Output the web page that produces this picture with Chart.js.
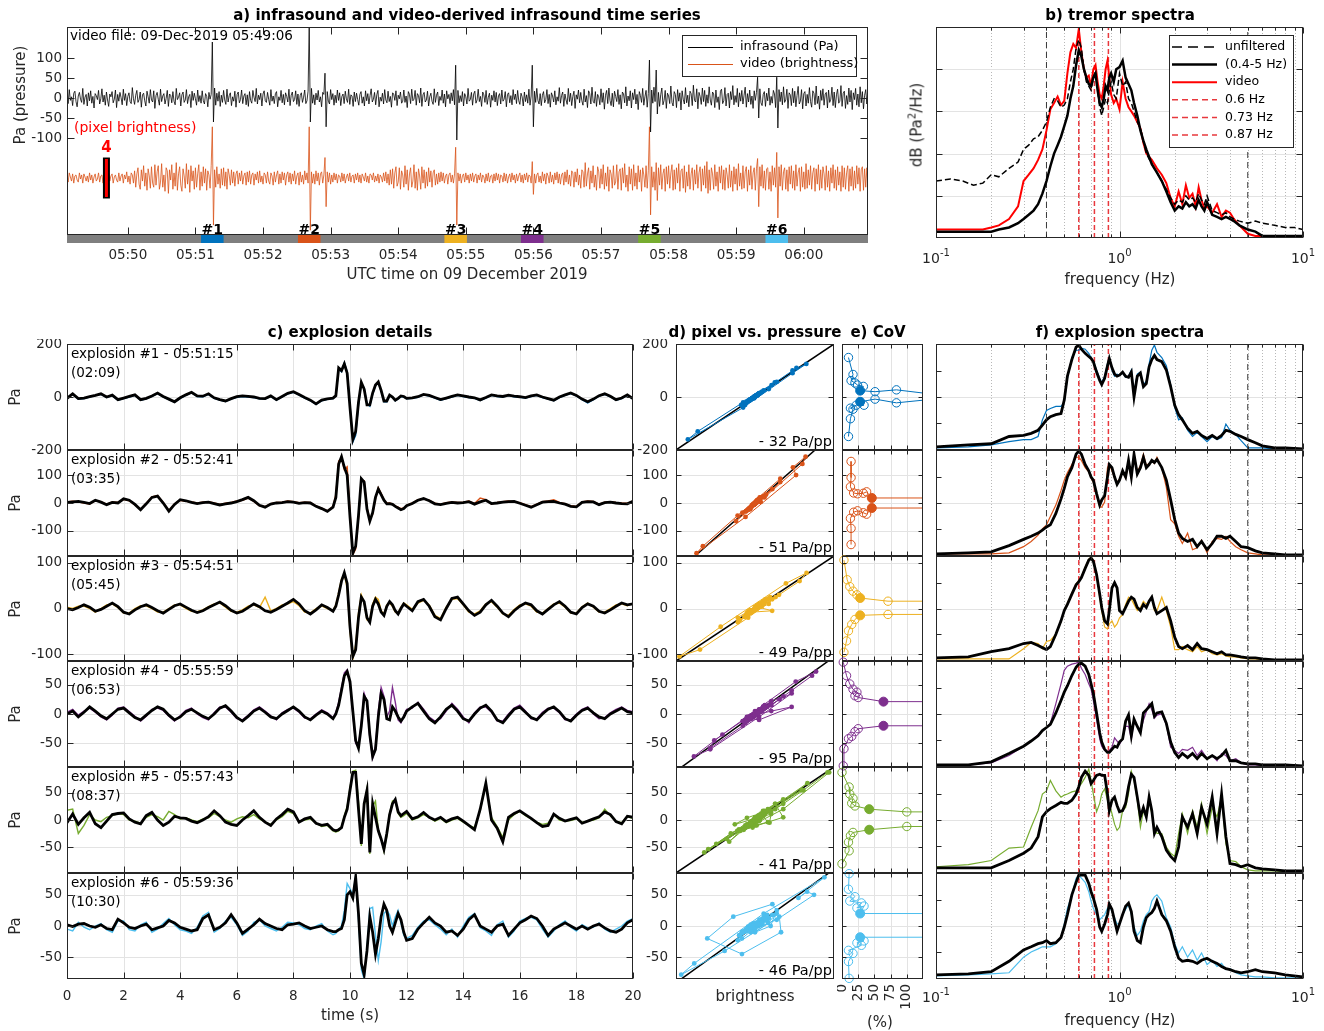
<!DOCTYPE html>
<html><head><meta charset="utf-8">
<script src="https://cdn.jsdelivr.net/npm/chart.js@4.4.1/dist/chart.umd.min.js"></script>
<style>
html,body{margin:0;padding:0;background:#fff;}
#root{position:relative;width:1324px;height:1031px;overflow:hidden;font-family:"DejaVu Sans",sans-serif;}
.lbl{position:absolute;white-space:nowrap;transform:translate(-50%,-50%);font-size:15px;color:#262626;line-height:1;}
.ttl{font-weight:bold;color:#000;}
.rot{transform:translate(-50%,-50%) rotate(-90deg);}
sup{font-size:10px;vertical-align:6px;line-height:0;}
canvas{position:absolute;}
</style></head><body><div id="root"></div>
<script>
const FONT = '"DejaVu Sans", sans-serif';
Chart.defaults.font.family = FONT;
Chart.defaults.font.size = 13.5;
Chart.defaults.color = '#262626';

// ================= DATA =================
// panel a : 1-s samples starting 05:49:06
const aStep = 1;
const aInfra = [
8,-14,21,-6,3,-19,12,17,-9,-22,5,14,-3,-11,24,-16,2,9,-20,13,
-7,18,-13,4,-25,11,6,-4,19,-15,-2,23,-10,7,-18,15,-5,-21,10,3,
16,-12,-3,20,-24,9,-8,14,1,-17,22,-6,11,-19,4,13,-9,-14,26,-2,
-16,7,19,-11,-4,15,-23,8,12,-7,-20,17,3,-13,21,-5,-10,18,-26,6,
14,-3,-18,22,-9,5,11,-15,-1,19,-21,10,7,-12,16,-8,-17,24,-4,2,
13,-20,8,15,-11,-5,21,-14,3,9,-24,17,-6,12,-2,-18,20,-9,6,-13,
18,-7,-15,11,4,-22,14,-3,9,140,-60,25,-18,12,-8,16,-21,7,-11,19,
-5,-16,22,-10,6,13,-19,3,-8,17,-23,9,15,-12,-4,20,-14,5,11,-17,
8,-21,16,-6,-13,19,2,-9,24,-15,7,-4,12,-20,10,18,-7,-11,14,-3,
-18,21,-8,5,-14,11,16,-22,3,-6,19,-12,9,-17,13,4,-10,22,-19,7,
15,-9,-4,18,-16,10,-21,6,13,-11,2,20,-14,-7,17,185,-60,24,-13,8,
-17,12,-5,19,-10,3,-22,14,9,62,-72,16,-8,-15,21,-4,11,-18,7,-12,
20,-6,13,-19,4,10,-14,17,-2,-11,22,-16,8,5,-21,15,-9,12,-4,-18,
9,16,-13,3,-20,18,-7,11,-15,6,23,-10,-3,14,-17,8,19,-22,2,-8,
12,-15,21,-5,-12,17,-9,4,-23,13,10,-6,18,-19,7,-2,15,-13,-8,20,
-11,5,-24,16,9,-14,22,-7,-3,19,-18,11,6,-12,25,-21,8,14,-10,-5,
17,-20,3,12,-8,-16,23,-11,7,15,-19,4,-6,20,-13,10,-22,18,-2,9,
-14,13,-7,21,-17,82,-105,19,-12,6,-9,16,-20,11,3,-15,24,-8,-4,14,
-18,10,17,-13,-5,22,-9,4,-21,15,8,-11,19,-16,2,12,-23,7,-6,18,
-10,14,-19,5,11,-15,20,-8,-3,16,-22,9,13,-12,6,-17,21,-4,10,-14,
19,-7,-16,12,3,-20,15,-9,8,-13,22,-18,5,82,-72,17,-11,24,-6,-15,
11,-19,7,16,-12,-4,21,-14,9,-23,13,5,-10,18,-17,3,-8,26,-13,6,
15,-21,10,-5,-16,24,-9,12,-19,4,17,-26,8,-3,20,-12,14,-7,-18,22,
-10,6,-24,18,11,-15,27,-8,-13,16,-21,9,3,-17,23,-11,13,-28,7,19,
-14,25,-6,-19,12,-22,17,4,-9,21,-16,8,-27,15,10,-12,28,-20,5,-7,
18,-25,13,-4,22,-15,9,-29,16,6,-11,24,-18,3,19,-23,11,95,-85,20,
-13,27,-9,70,-40,14,-21,8,25,-17,-6,19,-26,12,5,-14,30,-11,-20,16,
9,-24,21,-8,13,-30,18,-3,-15,26,-12,7,-22,17,11,-19,32,-6,-10,23,
-27,14,4,-16,25,-9,19,-21,8,-13,28,-5,-18,15,10,-24,20,-11,3,-29,
17,22,-14,-7,26,-20,9,12,-25,16,-4,31,-17,6,-11,24,-22,13,-8,19,
-15,7,27,-23,11,-10,20,-16,5,-26,18,-6,14,52,-50,23,-12,-19,9,16,
-21,12,-7,25,-18,4,-13,19,10,-24,52,-75,21,-9,15,-17,28,-11,-5,22,
-26,13,8,-19,24,-12,17,-22,6,29,-15,-8,21,-27,11,16,-20,9,-13,26,
-9,-23,18,12,-17,30,-14,5,-28,19,-6,23,-18,10,14,-25,20,-11,-3,27,
-19,15,-24,8,22,-13,-8,31,-21,12,17,-26,6,-16,25,-10,19,-29,13,-4,
24,-18,10,-22,28,-12,16,-27,7,21,-15,19];
const aVideoPP = [
0.2,-0.4,0.5,0.1,-0.3,0.4,-0.5,0.2,0.3,-0.2,-0.4,0.5,-0.1,0.3,-0.5,0.4,0.1,-0.3,0.2,-0.4,
0.5,-0.2,0.3,-0.5,0.1,0.4,-0.3,-0.1,0.5,-0.4,0.2,0.3,-0.5,0.4,-0.2,0.1,-0.4,0.5,-0.3,0.2,
0.4,-0.5,0.1,0.3,-0.2,-0.4,0.5,-0.3,0.2,0.4,-0.5,0.3,-0.1,0.6,-0.4,0.2,-0.6,0.5,0.3,-0.5,
0.7,-0.9,0.4,1.0,-0.6,-1.1,0.8,-0.3,1.2,-0.8,0.5,-1.2,0.9,0.2,-1.0,1.1,-0.5,-0.9,1.3,-0.7,
0.6,1.2,-1.1,-0.4,1.4,-0.9,0.3,-1.3,1.0,0.7,-1.5,0.8,-0.2,1.3,-1.1,0.5,-0.8,1.5,-1.2,0.4,
1.1,-0.7,-1.3,0.9,0.2,-1.0,1.4,-0.6,0.8,-1.4,1.2,-0.3,0.7,-1.1,1.0,-0.9,0.4,1.3,-1.2,0.6,
-0.8,1.1,-0.5,0.9,-1.2,0.7,0.3,-1.0,1.2,5.0,-4.6,0.8,-0.9,1.1,-0.6,0.4,-1.0,0.9,-0.7,1.0,
-0.8,0.6,-1.1,0.9,0.3,-0.7,0.8,-0.5,0.6,-0.8,0.4,0.7,-0.6,0.5,-0.3,0.7,-0.6,0.2,0.5,-0.7,
0.6,-0.4,0.7,-0.6,0.3,0.5,-0.7,0.4,-0.2,0.6,-0.5,0.7,-0.4,0.2,-0.6,0.5,0.3,-0.5,0.6,-0.3,
-0.6,0.5,0.2,-0.7,0.6,-0.4,0.3,0.7,-0.6,0.4,-0.5,0.6,-0.2,0.5,-0.7,0.3,0.6,-0.4,0.5,-0.6,
0.4,-0.3,0.7,-0.6,0.2,0.5,-0.7,0.6,-0.4,0.3,-0.6,0.7,-0.2,0.5,-0.5,5.0,-5.1,0.6,-0.5,0.4,
-0.6,0.7,-0.3,0.5,-0.7,0.4,0.6,-0.5,0.3,2.0,-2.8,0.6,-0.4,0.5,-0.6,0.3,-0.4,0.5,-0.2,0.4,
-0.5,0.3,0.2,-0.4,0.5,-0.3,0.4,-0.5,0.1,0.4,-0.3,0.5,-0.4,0.2,0.3,-0.5,0.4,-0.2,0.5,-0.4,
0.3,-0.5,0.4,0.1,-0.3,0.5,-0.4,0.2,-0.5,0.4,0.3,-0.2,0.5,-0.4,0.2,-0.3,0.4,-0.5,0.3,0.1,
-0.4,0.5,-0.3,0.6,-0.5,0.4,-0.7,0.8,-0.6,0.9,-1.0,0.5,1.1,-0.8,-0.4,1.0,-1.1,0.7,0.3,-0.9,
1.2,-0.6,0.8,-1.2,0.4,1.0,-0.9,-0.3,1.3,-1.0,0.6,-1.2,0.9,0.2,-1.1,1.1,-0.5,0.8,-1.0,0.6,
-0.8,1.0,-0.4,0.7,-0.9,0.5,0.8,-0.7,0.4,-0.6,0.5,-0.4,0.6,-0.3,0.5,-0.5,0.2,0.4,-0.6,0.3,
0.5,-0.4,0.3,-0.5,0.4,3.0,-4.6,0.5,-0.3,0.4,-0.5,0.2,0.4,-0.4,0.5,-0.2,0.3,-0.5,0.4,-0.3,
0.5,-0.4,0.2,0.4,-0.5,0.3,-0.2,0.5,-0.4,0.3,0.1,-0.5,0.4,-0.3,0.5,-0.4,0.2,0.3,-0.5,0.4,
-0.3,0.5,-0.2,0.4,-0.5,0.3,0.2,-0.4,0.5,-0.3,0.4,-0.5,0.1,0.4,-0.4,0.5,-0.2,0.3,-0.5,0.4,
-0.3,0.2,0.5,-0.4,0.3,-0.5,0.4,-0.2,0.5,-0.4,0.3,0.2,-0.5,1.6,-1.6,0.4,-0.5,0.3,0.5,-0.4,
0.2,-0.5,0.6,-0.3,0.4,-0.6,0.5,0.2,-0.5,0.6,-0.4,0.3,-0.6,0.5,-0.2,0.6,-0.5,0.4,-0.6,0.3,
0.5,-0.7,0.6,-0.4,0.8,-0.6,0.3,-0.8,0.7,0.5,-0.9,0.6,-0.4,0.9,-0.7,0.3,-1.0,0.8,0.6,-0.9,
1.5,-0.8,0.4,1.0,-1.1,0.7,-0.5,1.2,-0.9,0.3,-1.2,1.1,0.6,-1.0,0.9,-0.6,1.3,-1.1,0.5,-0.8,
1.1,-1.3,0.8,0.4,-1.0,1.2,-0.7,-0.4,1.3,-1.1,0.6,0.9,-1.2,1.0,-0.5,1.4,-0.9,0.3,-1.3,1.1,
-0.6,0.9,-1.2,1.3,-0.8,0.5,-1.1,1.2,-0.4,0.8,-1.3,1.0,0.3,-0.9,1.2,-1.0,0.7,5.0,-3.6,1.1,
-0.9,0.6,-1.2,1.5,-2.2,1.0,-0.7,1.3,-1.1,0.4,0.9,-1.3,1.1,-0.6,1.2,-1.0,0.5,1.3,-1.2,0.8,
-1.1,1.0,-0.5,1.4,-1.3,0.7,0.9,-1.0,1.2,-1.4,0.6,-0.8,1.3,-1.1,0.4,1.0,-1.2,0.8,-0.6,1.3,
-1.0,0.5,1.1,-1.3,0.9,-0.7,1.2,-1.0,1.6,-1.5,0.8,-1.2,1.0,0.4,-1.1,1.3,-0.8,0.6,-1.3,1.1,
-0.5,1.2,-1.1,0.8,-1.2,1.0,0.3,-1.0,1.3,-0.9,0.7,-1.3,1.1,-0.6,0.9,-1.2,1.4,-0.8,0.5,-1.1,
1.2,-1.0,0.6,1.1,-1.3,0.8,-0.7,1.2,-1.1,0.5,1.0,-1.2,0.9,1.9,-2.8,1.1,-0.8,1.3,-1.0,0.7,
-1.2,0.9,1.0,-1.1,0.6,-1.3,1.2,-0.7,1.0,-0.9,2.5,-3.9,1.1,-0.8,1.3,-1.2,0.6,1.0,-1.1,0.8,
-1.3,1.1,-0.6,1.2,-1.0,0.7,-1.2,1.3,-0.8,0.5,1.0,-1.3,1.1,-0.9,0.6,-1.1,1.4,-1.0,0.8,-0.7,
1.2,-1.1,0.5,1.0,-1.3,0.9,-0.6,1.3,-1.2,0.8,-1.0,1.1,0.4,-1.2,1.2,-0.9,0.7,-1.3,1.0,-0.5,
1.3,-1.0,0.8,-1.2,1.1,-0.7,0.6,-1.3,1.2,-0.9,1.0,-1.1,0.5,1.2,-1.3,0.9,-0.8,1.1,-1.2,0.7,
-1.0,1.2,-0.6,1.0,-1.3,0.8,1.1,-1.2,0.9,-0.9,1.0,-0.8];
const videoPaPerPP = 25.6, videoBaseline = -200, scaleBarPP = 4, scaleBarTime = 35;
const aTickSecs = [54,114,174,234,294,354,414,474,534,594,654];
const aTickLabels = ['05:50','05:51','05:52','05:53','05:54','05:55','05:56','05:57','05:58','05:59','06:00'];
const aYTicks = [-100,-50,0,50,100];
const aLegend = ['infrasound (Pa)','video (brightness)'];
const explTimes = [129,215,345,413,517,630];
const explNames = ['#1','#2','#3','#4','#5','#6'];
const explColors = ['#0072BD','#D95319','#EDB120','#7E2F8E','#77AC30','#4DBEEE'];

// panel b : tremor spectra (relative dB, 0-100 of axis)
const bFreq = [0.1,0.12,0.14,0.16,0.18,0.2,0.22,0.25,0.28,0.3,0.32,0.34,0.36,0.38,0.4,0.42,0.44,0.46,0.48,0.5,0.52,0.54,0.56,0.58,0.6,0.62,0.64,0.66,0.68,0.7,0.72,0.74,0.76,0.78,0.8,0.82,0.84,0.86,0.88,0.9,0.93,0.96,1.0,1.04,1.08,1.12,1.16,1.2,1.25,1.3,1.35,1.4,1.5,1.6,1.7,1.8,1.9,2.0,2.1,2.2,2.3,2.4,2.5,2.6,2.7,2.8,2.9,3.0,3.2,3.4,3.6,3.8,4.0,4.2,4.5,5.0,5.5,6,7,8,9,10];
const bUnfilt = [27,28,27,25,26,30,29,33,36,42,44,47,48,51,55,62,66,65,62,63,66,74,80,90,94,90,80,74,72,70,76,79,70,62,58,62,66,64,70,74,68,66,78,72,74,66,64,60,55,52,46,40,35,31,27,23,19,16,18,17,20,18,19,17,21,18,16,20,13,12,11,12,10,9,8,7,8,7,6,5,5,4];
const bFilt = [3,3,3,3,3,3,4,5,7,9,11,13,16,21,27,34,40,44,48,53,58,66,72,82,89,86,80,76,73,72,76,78,70,64,62,66,72,70,76,78,74,80,81,84,76,73,70,64,58,51,46,42,35,31,27,22,17,13,15,14,17,15,16,14,18,15,13,17,11,10,9,10,9,8,6,4,3,1,1,1,1,1];
const bVideo = [4,4,4,4,4,5,6,9,15,27,30,33,37,42,51,61,64,67,63,65,78,88,92,90,99,88,80,76,77,72,80,82,74,68,66,72,80,84,76,68,64,66,61,74,66,62,60,58,55,52,45,40,37,33,30,26,19,15,22,16,25,19,21,15,24,18,14,15,12,16,10,13,12,9,6,2,1,1,0,0,0,0];
const bandFreqs = [0.4, 5];
const peakFreqs = [0.6, 0.73, 0.87];
const logMajor = [0.1, 1, 10];
const logMinor = [0.2,0.3,0.4,0.5,0.6,0.7,0.8,0.9,2,3,4,5,6,7,8,9];

// panel c : 20-s windows around each explosion
const tC = [0,0.2,0.4,0.6,0.8,1,1.2,1.4,1.6,1.8,2,2.2,2.4,2.6,2.8,3,3.2,3.4,3.6,3.8,4,4.2,4.4,4.6,4.8,5,5.2,5.4,5.6,5.8,6,6.2,6.4,6.6,6.8,7,7.2,7.4,7.6,7.8,8,8.2,8.4,8.6,8.8,9,9.2,9.4,
 9.5,9.6,9.7,9.8,9.9,10,10.1,10.2,10.3,10.4,10.5,10.6,10.7,10.8,10.9,11,11.1,11.2,11.3,11.4,11.5,11.6,11.7,11.8,11.9,12,
 12.2,12.4,12.6,12.8,13,13.2,13.4,13.6,13.8,14,14.2,14.4,14.6,14.8,15,15.2,15.4,15.6,15.8,16,16.2,16.4,16.6,16.8,17,17.2,17.4,17.6,17.8,18,18.2,18.4,18.6,18.8,19,19.2,19.4,19.6,19.8,20];
const cInfra1 = [-5,12,-6,-4,1,6,12,0,7,-10,-4,2,8,-10,-5,4,15,2,-8,-18,-3,8,18,4,3,12,-3,-10,-15,-6,1,4,2,0,-5,-6,4,-10,2,14,20,9,-2,-12,-26,-12,-7,-4,
 5,110,100,125,90,-40,-160,-130,-20,55,30,-30,-30,15,45,57,25,-15,-15,7,0,-12,-5,4,2,-5,
 -3,1,10,6,-2,-10,-4,2,8,4,0,-3,-11,-2,8,4,2,7,3,1,-2,4,8,0,-6,-12,0,8,15,6,-8,-18,-8,5,12,3,-10,-4,8,-6];
const cVideo1 = [-2,10,-8,-6,0,5,10,-2,5,-12,-6,0,6,-12,-7,2,13,0,-10,-20,-5,6,16,2,1,10,-5,-12,-17,-8,-1,2,0,-2,-7,-8,2,-12,0,12,18,7,-4,-14,-28,-14,-9,-6,
 3,105,95,130,95,-30,-170,-145,-30,50,35,-25,-35,10,42,55,22,-18,-18,5,-2,-14,-7,2,0,-7,
 -5,-1,8,4,-4,-12,-6,0,6,2,-2,-5,-13,-4,6,2,0,5,1,-1,-4,2,6,-2,-8,-14,-2,6,13,4,-10,-22,-10,3,10,1,-12,-6,6,-8];
const cInfra2 = [2,4,6,2,-2,10,3,-6,2,0,15,10,-5,-24,-3,20,25,0,-29,-5,12,8,2,-2,1,3,-2,-7,-3,0,5,12,20,8,-8,-15,-4,0,1,5,3,-1,1,0,-12,-20,-30,-15,
 20,140,166,128,100,-50,-180,-155,-45,87,75,-22,-65,-35,20,50,30,10,-3,-2,-5,-12,-18,-24,-20,-10,
 -2,10,16,8,-3,-6,-1,2,0,1,5,-4,4,10,-2,0,3,5,6,-1,-8,-15,-6,3,5,6,0,-4,-12,-14,2,5,4,-6,1,3,0,-2,-3,6];
const cVideo2 = [4,6,4,0,-4,8,5,-4,4,2,13,8,-7,-22,-1,22,27,2,-27,-3,10,6,4,0,3,5,0,-5,-1,2,7,10,18,6,-10,-13,-2,2,3,7,5,1,3,2,-10,-18,-28,-13,
 30,150,160,120,130,-30,-185,-165,-55,80,80,-15,-60,-40,15,55,35,12,-1,0,-3,-10,-15,-20,-18,-8,
 0,12,14,10,-1,-4,1,4,2,3,7,-2,18,12,-4,2,5,7,4,1,-6,-13,-4,5,7,12,2,-2,-10,-12,4,7,6,-4,3,5,2,0,-1,8];
const cInfra3 = [0,-3,2,8,3,-6,-2,5,12,4,-8,-12,-3,4,8,2,-5,-10,-2,6,10,3,-4,-9,-5,2,8,14,6,-4,-10,-6,2,10,4,-5,-8,-2,5,12,20,10,-5,-12,-3,8,2,-6,
 5,30,60,78,55,-40,-105,-90,-20,25,15,-20,-30,5,20,10,-8,-15,5,15,8,-5,-12,0,10,5,
 -5,15,20,5,-18,-25,0,22,25,10,-5,-15,-8,8,18,5,-10,-18,-5,5,12,8,-5,-12,-2,8,15,5,-8,-12,2,10,5,-6,-10,-3,5,12,8,10];
const cVideo3 = [3,0,5,5,0,-8,0,8,10,2,-10,-10,0,6,6,0,-8,-8,0,8,8,0,-6,-7,-3,4,10,12,3,-6,-8,-3,5,8,2,25,-5,0,8,10,15,6,-8,-10,0,6,0,-4,
 8,35,65,75,45,-50,-110,-80,-10,30,12,-25,-25,10,25,20,-5,-12,8,12,5,-8,-10,3,12,8,
 -2,12,18,8,-15,-22,3,20,22,8,-8,-12,-5,10,15,3,-12,-15,-2,8,10,5,-8,-10,0,10,12,3,-10,-10,4,12,3,-8,-8,0,8,10,6,12];
const cInfra4 = [0,5,-5,3,12,5,-3,-8,0,8,10,2,-6,-10,-2,6,12,8,-2,-10,-5,4,8,2,-4,-8,0,10,14,5,-6,-12,-4,5,10,3,-5,-8,0,6,12,5,-5,-10,-2,5,0,-8,
 0,15,40,65,72,55,5,-45,-58,-20,30,22,-35,-72,-60,-5,35,25,-8,-10,12,5,-5,-12,-5,5,
 12,18,5,-8,-15,-5,8,15,5,-8,-12,0,10,15,5,-10,-15,-3,8,12,3,-6,-10,0,8,12,4,-8,-12,-2,6,10,2,-5,-8,0,5,10,4,2];
const cVideo4 = [3,8,-2,5,10,3,-5,-10,-2,10,12,4,-4,-12,-4,8,10,6,-4,-12,-3,6,10,0,-6,-10,2,12,12,3,-8,-10,-2,7,12,5,-3,-10,2,8,10,3,-7,-8,0,7,2,-6,
 3,20,45,70,75,50,0,-50,-55,-15,35,20,-40,-75,-55,5,45,30,-5,5,45,20,-10,-15,-3,8,
 10,20,8,-5,-12,-8,5,18,8,-5,-15,2,12,12,3,-12,-12,0,10,15,5,-8,-8,3,10,10,2,-10,-10,0,8,12,0,-8,-6,2,8,12,6,4];
const cInfra5 = [-5,11,-8,4,14,-7,-14,-2,10,12,13,2,-4,-7,8,14,0,-10,-4,7,4,3,-2,-5,0,6,17,8,-4,-8,-10,0,8,17,5,-4,-10,2,10,20,15,-4,2,5,-6,-10,-8,-18,
 -20,-18,-14,5,20,55,88,88,20,-44,30,55,-60,30,5,-20,-35,-54,-25,10,30,38,15,8,12,16,
 2,6,14,5,0,5,-3,2,5,-2,-10,-18,20,68,0,-15,-40,5,12,17,10,3,-5,-12,-10,11,3,-2,1,4,-6,-2,2,6,15,10,-3,-7,7,5];
const cVideo5 = [18,20,-25,-10,10,0,-3,5,8,12,10,0,-2,-6,5,10,6,0,16,10,2,4,0,-3,2,4,12,6,0,-4,2,6,4,10,2,-4,-8,0,6,16,12,-2,0,2,-6,-12,-10,-20,
 -22,-20,-12,8,25,60,90,92,35,-48,25,58,-63,25,35,-18,-35,-58,-30,12,35,35,12,5,8,12,
 0,4,10,5,-2,3,-5,0,3,-4,-10,-14,18,65,5,-12,-32,0,10,16,8,2,-4,-8,-6,10,0,-2,-1,2,-4,-2,0,4,20,8,-2,-5,6,3];
const cInfra6 = [2,-1,3,4,0,-2,2,-4,-6,11,5,-2,-4,0,3,-6,-3,0,9,5,-2,-5,-8,-6,12,18,-6,-2,5,18,5,-12,-5,2,11,4,0,-4,-6,2,3,5,0,-4,-2,0,-6,-9,
 -9,-6,-4,10,50,55,45,78,20,-60,-78,-40,15,-10,-45,-20,15,35,25,0,-10,5,20,10,-10,-23,
 -20,-5,5,14,5,0,-10,-8,-15,-5,10,18,0,-5,-10,0,3,-15,-5,5,10,16,12,0,-15,-5,0,5,0,-5,0,-5,0,3,-3,-8,-10,-5,5,10];
const cVideo6 = [-5,-8,6,-2,-6,0,4,-6,-10,8,8,-6,-8,2,6,-10,-5,4,12,2,-6,-8,-12,-2,16,22,-10,-4,8,14,2,-15,-8,6,10,0,-4,-8,-2,6,5,2,-4,-6,0,4,-8,-14,
 -12,-5,0,25,68,60,50,80,10,-70,-85,-35,28,30,-15,-55,-25,20,25,18,0,15,25,5,-15,-20,
 -15,-2,8,10,2,-5,-14,-5,-18,0,14,20,-3,-8,-15,2,8,-18,-8,8,12,14,10,-5,-18,-8,2,8,-2,-8,2,-3,-2,5,-5,-10,-5,0,8,12];
const cInfra = [cInfra1,cInfra2,cInfra3,cInfra4,cInfra5,cInfra6];
const cVideo = [cVideo1,cVideo2,cVideo3,cVideo4,cVideo5,cVideo6];
const cYMax = [200,190,115,90,98,85];
const cYTicks = [[-200,0,200],[-100,0,100],[-100,0,100],[-50,0,50],[-50,0,50],[-50,0,50]];
const cXTicks = [0,2,4,6,8,10,12,14,16,18,20];
const cTitle = ['explosion #1 - 05:51:15','explosion #2 - 05:52:41','explosion #3 - 05:54:51','explosion #4 - 05:55:59','explosion #5 - 05:57:43','explosion #6 - 05:59:36'];
const cOffset = ['(02:09)','(03:35)','(05:45)','(06:53)','(08:37)','(10:30)'];

// panel d
const dXMax = [200,250,115,97,98,91];
const dSlope = ['- 32 Pa/pp','- 51 Pa/pp','- 49 Pa/pp','- 95 Pa/pp','- 41 Pa/pp','- 46 Pa/pp'];

// panel e : CoV (%) vs amplitude
const eTicks = [0,25,50,75,100];
const eXUp = [[10,17,14,20,24,33,28,51,84,125],[14,14,13,18,24,33,38,46,125],[3,8,12,17,23,28,71,125],[2,7,12,17,23,20,25,64,125],[0,11,12,17,15,20,42,100,125],[11,10,20,12,30,23,34,28,125]];
const eYUp = [[149,85,62,53,45,40,24,20,27,15],[149,91,58,36,33,35,40,18,18],[106,63,48,38,30,23,16,16],[88,65,51,42,37,31,28,21,21],[88,61,48,40,31,26,20,15,15],[84,59,47,40,37,29,32,20,20]];
const eFillUp = [6,7,5,7,6,7];
const eXLo = [[10,13,17,13,22,34,28,51,84,125],[14,14,13,18,24,33,38,46,125],[3,7,10,15,20,28,71,125],[2,3,10,15,20,25,64,125],[0,11,10,13,17,42,100,125],[11,10,17,10,30,23,34,28,125]];
const eYLo = [[-149,-82,-46,-42,-31,-31,-18,-8,-22,-12],[-149,-91,-55,-33,-28,-35,-40,-18,-18],[-96,-71,-49,-35,-24,-15,-13,-13],[-88,-59,-42,-38,-30,-25,-20,-20],[-81,-57,-41,-29,-23,-18,-12,-12],[-84,-57,-44,-39,-31,-27,-24,-18,-18]];
const eFillLo = [6,7,5,6,5,7];

// panel f : explosion spectra (relative, 0-100)
const fFreq = [0.1,0.15,0.2,0.25,0.3,0.33,0.36,0.38,0.4,0.42,0.45,0.48,0.5,0.52,0.55,0.58,0.6,0.62,0.65,0.68,0.7,0.72,0.75,0.78,0.8,0.83,0.86,0.88,0.91,0.94,0.97,1.0,1.04,1.08,1.12,1.16,1.2,1.25,1.3,1.35,1.4,1.45,1.5,1.55,1.6,1.7,1.8,1.9,2.0,2.1,2.2,2.35,2.5,2.65,2.8,3.0,3.2,3.4,3.6,3.8,4.0,4.3,4.6,5.0,5.5,6,7,8,10];
const fInfra = [
 [2,4,5,12,13,15,18,23,28,31,33,34,47,70,86,98,100,96,92,89,87,84,74,66,62,68,80,87,78,72,70,71,74,70,69,74,50,70,73,60,63,79,86,90,86,84,76,60,42,33,28,20,15,17,13,10,13,10,13,18,17,14,12,9,6,3,1,1,0],
 [1,2,3,9,15,18,21,24,27,29,40,54,64,75,84,97,100,97,87,81,75,72,59,48,53,57,75,87,84,75,68,72,81,75,91,75,97,78,84,94,84,87,91,89,92,84,72,53,34,21,16,13,15,8,13,5,11,18,18,16,18,13,8,7,4,2,1,0,0],
 [2,3,8,11,16,17,14,12,10,13,25,38,48,54,64,73,76,80,89,97,99,96,83,64,51,38,35,48,70,75,70,48,45,51,57,61,59,51,48,54,51,57,61,51,45,48,51,38,22,13,11,14,10,16,11,10,8,6,8,5,5,4,3,2,2,1,0,0,0],
 [1,1,4,12,19,24,29,34,37,40,51,63,71,77,87,95,98,99,96,88,79,70,51,32,23,16,13,13,16,19,18,23,26,43,49,29,45,38,32,51,54,57,60,48,51,52,41,23,13,8,12,8,12,7,12,7,10,7,10,15,5,5,3,2,2,1,1,1,0],
 [4,4,4,11,18,23,34,53,58,61,64,67,66,66,69,75,82,91,97,93,85,88,93,94,93,93,75,59,69,72,64,58,59,66,82,94,91,72,53,62,53,72,59,37,43,34,21,15,11,24,53,43,56,37,62,46,72,37,75,34,8,7,5,7,4,3,2,1,1],
 [3,4,6,16,27,30,33,34,36,33,34,39,49,61,80,92,99,99,99,91,83,77,66,49,45,52,61,71,66,55,45,52,61,69,72,64,45,36,34,49,58,61,63,67,74,61,55,45,30,19,16,17,16,14,17,19,16,14,11,9,8,6,5,6,8,6,5,3,1]];
const fVideo = [
 [1,2,4,7,9,9,12,28,37,39,41,41,45,68,88,95,95,97,96,92,88,84,76,68,64,70,82,88,76,70,72,71,73,69,70,76,55,72,74,62,65,82,95,100,93,88,80,62,40,28,30,18,12,16,12,7,12,9,11,24,18,14,8,1,1,1,0,0,0],
 [1,1,1,2,8,13,19,25,29,37,48,62,72,79,87,94,94,91,84,80,74,70,58,46,46,51,84,87,81,74,70,73,80,74,88,74,97,80,86,97,86,88,90,88,94,84,65,34,30,18,11,21,5,7,14,2,13,16,15,18,13,8,5,2,1,0,0,0,0],
 [1,1,1,1,11,17,16,11,18,19,25,37,48,55,65,74,77,81,90,98,100,97,83,61,48,32,30,35,38,32,35,41,44,54,61,59,54,48,51,57,54,57,61,48,48,61,48,32,10,10,13,10,8,13,8,10,6,5,6,4,3,3,2,1,1,0,0,0,0],
 [1,1,3,10,19,24,30,34,37,41,60,79,92,96,98,99,100,94,88,79,74,63,45,26,19,15,13,15,18,27,24,21,26,38,38,26,43,38,33,44,52,60,54,46,49,50,40,18,15,12,16,15,18,10,15,7,10,5,12,10,5,7,3,1,1,0,0,0,0],
 [5,7,11,23,24,43,59,75,78,88,78,72,74,75,77,78,82,85,91,99,88,75,58,66,75,80,69,66,56,46,40,43,59,62,75,97,88,69,43,59,53,69,56,43,37,37,24,18,15,37,56,37,59,43,66,37,62,53,72,27,11,10,5,2,1,1,1,0,0],
 [2,3,4,5,20,25,28,30,30,30,33,39,52,67,80,96,99,96,92,83,74,67,61,56,58,61,67,69,64,58,52,52,61,66,71,61,49,41,45,55,61,64,74,78,80,74,58,49,33,24,30,20,27,17,24,13,17,11,14,8,9,5,3,2,1,1,0,0,0]];

// ================= HELPERS =================
const root = document.getElementById('root');
function line(xv, yv, color, width, extra) {
  const n = Math.min(xv.length, yv.length), data = [];
  for (let i = 0; i < n; i++) data.push({x: xv[i], y: yv[i]});
  return Object.assign({data, showLine: true, pointRadius: 0, borderColor: color, backgroundColor: color, borderWidth: width, tension: 0}, extra || {});
}
function vline(xv, y0, y1, color, width, dash) {
  return {data: [{x: xv, y: y0}, {x: xv, y: y1}], showLine: true, pointRadius: 0, borderColor: color, borderWidth: width, borderDash: dash};
}
function seg(ctx, x1, y1, x2, y2) { ctx.beginPath(); ctx.moveTo(x1, y1); ctx.lineTo(x2, y2); ctx.stroke(); }
function axesPlugin(o, org) {
  return {
    id: 'maxes',
    beforeDatasetsDraw(chart) {
      const ctx = chart.ctx, ca = chart.chartArea, xs = chart.scales.x, ys = chart.scales.y;
      ctx.save(); ctx.lineWidth = 1;
      (o.xGrid || []).forEach(g => { const p = Math.round(xs.getPixelForValue(g[0])) + 0.5; ctx.strokeStyle = g[1]; ctx.setLineDash(g[2] || []); seg(ctx, p, ca.top, p, ca.bottom); });
      (o.yGrid || []).forEach(g => { const p = Math.round(ys.getPixelForValue(g[0])) + 0.5; ctx.strokeStyle = g[1]; ctx.setLineDash(g[2] || []); seg(ctx, ca.left, p, ca.right, p); });
      ctx.restore();
    },
    afterDatasetsDraw(chart) {
      const ctx = chart.ctx, ca = chart.chartArea, xs = chart.scales.x, ys = chart.scales.y;
      ctx.save();
      ctx.strokeStyle = '#262626'; ctx.lineWidth = 1; ctx.setLineDash([]);
      const L = Math.round(ca.left) + 0.5, R = Math.round(ca.right) - 0.5, T = Math.round(ca.top) + 0.5, B = Math.round(ca.bottom) - 0.5;
      ctx.strokeRect(L, T, R - L, B - T);
      (o.xTicks || []).forEach(tk => { const p = Math.round(xs.getPixelForValue(tk[0])) + 0.5; seg(ctx, p, B, p, B - tk[1]); seg(ctx, p, T, p, T + tk[1]); });
      (o.yTicks || []).forEach(tk => { const p = Math.round(ys.getPixelForValue(tk[0])) + 0.5; seg(ctx, L, p, L + tk[1], p); seg(ctx, R, p, R - tk[1], p); });
      ctx.restore();
      if (o.after) { ctx.save(); o.after(ctx, ca, xs, ys, org); ctx.restore(); }
    }
  };
}
function zeroPad(s) { s.paddingLeft = 0; s.paddingRight = 0; s.paddingTop = 0; s.paddingBottom = 0; }
function mk(rect, m, o) {
  const [l, t, w, h] = rect, [ml, mt, mr, mb] = m;
  const W = w + ml + mr, H = h + mt + mb, ox = l - ml, oy = t - mt;
  const cv = document.createElement('canvas');
  cv.width = W; cv.height = H;
  cv.style.cssText = `left:${ox}px;top:${oy}px;width:${W}px;height:${H}px;`;
  root.appendChild(cv);
  const xs = {type: o.xType || 'linear', min: o.x[0], max: o.x[1], display: !!o.xLab, position: 'bottom',
    grid: {display: false, drawTicks: false}, border: {display: false}};
  if (o.xLab) {
    xs.afterFit = s => { s.height = mb; zeroPad(s); };
    xs.ticks = {padding: o.xLab.pad, autoSkip: false, maxRotation: 0, minRotation: 0, color: '#262626', font: {size: 13.5}, callback: (v, i) => o.xLab.text[i]};
    xs.afterBuildTicks = s => { s.ticks = o.xLab.vals.map(v => ({value: v})); };
  }
  const ys = {type: 'linear', min: o.y[0], max: o.y[1], display: !!o.yLab, position: 'left',
    grid: {display: false, drawTicks: false}, border: {display: false}};
  if (o.yLab) {
    ys.afterFit = s => { s.width = ml; zeroPad(s); };
    ys.ticks = {padding: o.yLab.pad, autoSkip: false, color: '#262626', font: {size: 13.5}, callback: (v, i) => o.yLab.text[i]};
    ys.afterBuildTicks = s => { s.ticks = o.yLab.vals.map(v => ({value: v})); };
  }
  const pad = {left: o.yLab ? 0 : ml, right: mr, top: mt, bottom: o.xLab ? 0 : mb};
  return new Chart(cv, {type: 'scatter', data: {datasets: o.ds},
    options: {responsive: false, animation: false, devicePixelRatio: 1, events: [],
      layout: {padding: pad, autoPadding: false},
      plugins: {legend: {display: false}, tooltip: {enabled: false}},
      scales: {x: xs, y: ys}},
    plugins: [axesPlugin(o, {ox, oy})]});
}
function txt(s, x, y, cls) {
  const d = document.createElement('div'); d.className = 'lbl ' + (cls || ''); d.innerHTML = s;
  d.style.left = x + 'px'; d.style.top = y + 'px'; root.appendChild(d);
}
function logLabels(ctx, ca, xs, dy) {
  ctx.fillStyle = '#262626'; ctx.textAlign = 'left'; ctx.textBaseline = 'alphabetic';
  logMajor.forEach(v => {
    const p = xs.getPixelForValue(v), sup = String(Math.round(Math.log10(v)));
    ctx.font = '14px ' + FONT; const w1 = ctx.measureText('10').width;
    ctx.font = '10px ' + FONT; const w2 = ctx.measureText(sup).width;
    const x0 = p - (w1 + w2) / 2;
    ctx.font = '14px ' + FONT; ctx.fillText('10', x0, ca.bottom + dy);
    ctx.font = '10px ' + FONT; ctx.fillText(sup, x0 + w1, ca.bottom + dy - 7);
  });
}
const GRID = '#e3e3e3', GRIDDOT = '#b8b8b8';
const logGrid = logMinor.map(v => [v, GRIDDOT, [1, 2]]).concat([[1, GRID]]);
const logTicks = logMajor.map(v => [v, 6]).concat(logMinor.map(v => [v, 3]));
const BANDC = '#3a3a3a', PEAKC = '#e8383d';

// ================= PANEL a =================
const aT = aInfra.map((_, i) => i * aStep);
mk([67, 27, 801, 208], [67, 27, 20, 50], {
  x: [0, 711], y: [-342.5, 177.5],
  xLab: {vals: aTickSecs, text: aTickLabels, pad: 12},
  yLab: {vals: aYTicks, text: aYTicks.map(String), pad: 5},
  xTicks: aTickSecs.map(v => [v, 7]), yTicks: aYTicks.map(v => [v, 7]),
  ds: [line(aT, aInfra, '#000', 0.8), line(aT, aVideoPP.map(v => videoBaseline + v * videoPaPerPP), '#D95319', 0.8)],
  after: (ctx, ca, xs, ys, org) => {
    const px = x => x - org.ox, py = y => y - org.oy;
    ctx.fillStyle = '#7f7f7f'; ctx.fillRect(ca.left, ca.bottom, ca.right - ca.left, 8);
    ctx.font = 'bold 14px ' + FONT; ctx.textAlign = 'center'; ctx.textBaseline = 'alphabetic';
    explTimes.forEach((t, k) => {
      const x1 = xs.getPixelForValue(t - 10), x2 = xs.getPixelForValue(t + 10);
      ctx.fillStyle = explColors[k]; ctx.fillRect(x1, ca.bottom, x2 - x1, 8);
      ctx.fillStyle = '#000'; ctx.fillText(explNames[k], xs.getPixelForValue(t), ca.bottom - 1);
    });
    const xb = xs.getPixelForValue(scaleBarTime);
    const yt = ys.getPixelForValue(videoBaseline + scaleBarPP / 2 * videoPaPerPP), yb = ys.getPixelForValue(videoBaseline - scaleBarPP / 2 * videoPaPerPP);
    ctx.fillStyle = '#000'; ctx.fillRect(xb - 3.5, yt, 7, yb - yt);
    ctx.fillStyle = '#ff0000'; ctx.fillRect(xb - 1.5, yt + 1.5, 3, yb - yt - 3);
    ctx.font = 'bold 15px ' + FONT; ctx.textBaseline = 'middle'; ctx.fillText(String(scaleBarPP), xb, yt - 9);
    ctx.font = '14px ' + FONT; ctx.textAlign = 'left'; ctx.fillText('(pixel brightness)', px(74), py(128));
    ctx.fillStyle = '#000'; ctx.font = '13.5px ' + FONT; ctx.fillText('video file: 09-Dec-2019 05:49:06', px(70), py(36));
    const lx = px(682), ly = py(35);
    ctx.fillStyle = '#fff'; ctx.fillRect(lx, ly, 174, 41);
    ctx.strokeStyle = '#262626'; ctx.lineWidth = 1; ctx.strokeRect(lx + 0.5, ly + 0.5, 174, 41);
    [['#000', 47], ['#D95319', 64]].forEach((e, i) => {
      ctx.strokeStyle = e[0]; seg(ctx, px(688), py(e[1]) + 0.5, px(733), py(e[1]) + 0.5);
      ctx.fillStyle = '#000'; ctx.font = '13px ' + FONT; ctx.fillText(aLegend[i], px(740), py(e[1]));
    });
  }
});

// ================= PANEL b =================
mk([936, 27, 367, 211], [20, 27, 15, 40], {
  xType: 'logarithmic', x: [0.1, 10], y: [0, 100],
  xGrid: logGrid, yGrid: [20, 40, 60, 80].map(v => [v, GRID]),
  xTicks: logTicks, yTicks: [20, 40, 60, 80].map(v => [v, 6]),
  ds: [line(bFreq, bUnfilt, '#000', 1.5, {borderDash: [6, 3]}),
       line(bFreq, bFilt, '#000', 2.5),
       line(bFreq, bVideo, '#ff0000', 2),
       ...bandFreqs.map(f => vline(f, 0, 100, BANDC, 1, [6, 4])),
       ...peakFreqs.map(f => vline(f, 0, 100, PEAKC, 1.5, [5, 3]))],
  after: (ctx, ca, xs, ys, org) => {
    logLabels(ctx, ca, xs, 25);
    const px = x => x - org.ox, py = y => y - org.oy;
    const lx = px(1169), ly = py(35);
    ctx.fillStyle = '#fff'; ctx.fillRect(lx, ly, 124, 112);
    ctx.strokeStyle = '#262626'; ctx.lineWidth = 1; ctx.setLineDash([]); ctx.strokeRect(lx + 0.5, ly + 0.5, 124, 112);
    const ent = [['unfiltered', '#000', 1.5, [10, 6]], ['(0.4-5 Hz)', '#000', 2.5, []], ['video', '#ff0000', 2, []]]
      .concat(peakFreqs.map(f => [f + ' Hz', PEAKC, 1.5, [6, 4]]));
    ent.forEach((e, i) => {
      const yy = py(47 + i * 17.6);
      ctx.strokeStyle = e[1]; ctx.lineWidth = e[2]; ctx.setLineDash(e[3]); seg(ctx, px(1172), yy, px(1217), yy);
      ctx.setLineDash([]); ctx.fillStyle = '#000'; ctx.font = '12.5px ' + FONT; ctx.textAlign = 'left'; ctx.textBaseline = 'middle';
      ctx.fillText(e[0], px(1225), yy);
    });
  }
});

// ================= PANELS c, d, e, f =================
const cTop = [344, 450, 556, 661, 767, 873], cH = [106, 106, 105, 106, 106, 106];
for (let k = 0; k < 6; k++) {
  const last = k === 5, Y = cYMax[k], col = explColors[k];
  const yt = cYTicks[k], yInner = yt.filter(v => Math.abs(v) < Y).map(v => [v, GRID]);
  mk([67, cTop[k], 566, cH[k]], [67, 5, 12, last ? 35 : 5], {
    x: [0, 20], y: [-Y, Y],
    xLab: last ? {vals: cXTicks, text: cXTicks.map(String), pad: 9} : null,
    yLab: {vals: yt, text: yt.map(String), pad: 5},
    xGrid: cXTicks.filter(v => v > 0 && v < 20).map(v => [v, GRID]), yGrid: yInner,
    xTicks: cXTicks.map(v => [v, 6]), yTicks: yt.map(v => [v, 6]),
    ds: [line(tC, cInfra[k], '#000', 2.8), line(tC, cVideo[k], col, 1.4)],
    after: (ctx, ca) => {
      ctx.fillStyle = '#000'; ctx.font = '13.5px ' + FONT; ctx.textAlign = 'left'; ctx.textBaseline = 'middle';
      ctx.fillText(cTitle[k], ca.left + 4, ca.top + 10.5);
      ctx.fillText(cOffset[k], ca.left + 4, ca.top + 29);
    }
  });
  const R = dXMax[k] * 2;
  mk([676, cTop[k], 158, cH[k]], [45, 5, 5, 5], {
    x: [-dXMax[k], dXMax[k]], y: [-Y, Y],
    yLab: {vals: yt, text: yt.map(String), pad: 8},
    yGrid: yInner, yTicks: yt.map(v => [v, 5]),
    ds: [line(cVideo[k], cInfra[k], col, 1, {pointRadius: 2.4, pointBackgroundColor: col, pointBorderWidth: 0}),
         {data: [{x: -R, y: -R}, {x: R, y: R}], showLine: true, pointRadius: 0, borderColor: '#000', borderWidth: 1.5}],
    after: (ctx, ca) => {
      ctx.fillStyle = '#000'; ctx.font = '14.5px ' + FONT; ctx.textAlign = 'right'; ctx.textBaseline = 'middle';
      ctx.fillText(dSlope[k], ca.right - 2, ca.bottom - 8);
    }
  });
  const cov = (xv, yv, fi) => line(xv, yv, col, 1, {clip: false,
    pointRadius: xv.map((_, i) => i === xv.length - 1 ? 0 : (i === fi ? 4.5 : 4.2)),
    pointBackgroundColor: xv.map((_, i) => i === fi ? col : 'rgba(0,0,0,0)'),
    pointBorderColor: col, pointBorderWidth: 1});
  mk([842, cTop[k], 81, cH[k]], [5, 5, 5, last ? 35 : 5], {
    x: [0, 125], y: [-Y, Y],
    xGrid: [25, 50, 75, 100].map(v => [v, GRID]), yGrid: yInner,
    xTicks: eTicks.map(v => [v, 4]), yTicks: yt.map(v => [v, 4]),
    ds: [cov(eXUp[k], eYUp[k], eFillUp[k]), cov(eXLo[k], eYLo[k], eFillLo[k])],
    after: last ? (ctx, ca, xs) => {
      ctx.fillStyle = '#262626'; ctx.font = '13.5px ' + FONT; ctx.textAlign = 'right'; ctx.textBaseline = 'middle';
      eTicks.forEach(v => { ctx.save(); ctx.translate(xs.getPixelForValue(v), ca.bottom + 5); ctx.rotate(-Math.PI / 2); ctx.fillText(String(v), 0, 0); ctx.restore(); });
    } : null
  });
  mk([936, cTop[k], 367, cH[k]], [22, 5, 15, last ? 40 : 5], {
    xType: 'logarithmic', x: [0.1, 10], y: [-1, 101],
    xGrid: logGrid, yGrid: [[50, GRID]],
    xTicks: logTicks, yTicks: [25, 50, 75].map(v => [v, 5]),
    ds: [...bandFreqs.map(f => vline(f, -1, 101, BANDC, 1, [6, 4])),
         line(fFreq, fInfra[k], '#000', 2.8), line(fFreq, fVideo[k], col, 1.2),
         ...peakFreqs.map(f => vline(f, -1, 101, PEAKC, 1.5, [5, 3]))],
    after: last ? (ctx, ca, xs) => logLabels(ctx, ca, xs, 23) : null
  });
}

// ================= TEXT =================
txt('a) infrasound and video-derived infrasound time series', 467, 15, 'ttl');
txt('b) tremor spectra', 1120, 15, 'ttl');
txt('c) explosion details', 350, 332, 'ttl');
txt('d) pixel vs. pressure', 755, 332, 'ttl');
txt('e) CoV', 878, 332, 'ttl');
txt('f) explosion spectra', 1120, 332, 'ttl');
txt('UTC time on 09 December 2019', 467, 274);
txt('frequency (Hz)', 1120, 279);
txt('time (s)', 350, 1015);
txt('brightness', 755, 996);
txt('(%)', 880, 1022);
txt('frequency (Hz)', 1120, 1020);
txt('Pa (pressure)', 20, 95, 'rot');
txt('dB (Pa<sup>2</sup>/Hz)', 917, 125, 'rot');
cTop.forEach((t, k) => txt('Pa', 15, t + cH[k] / 2, 'rot'));
</script></body></html>
